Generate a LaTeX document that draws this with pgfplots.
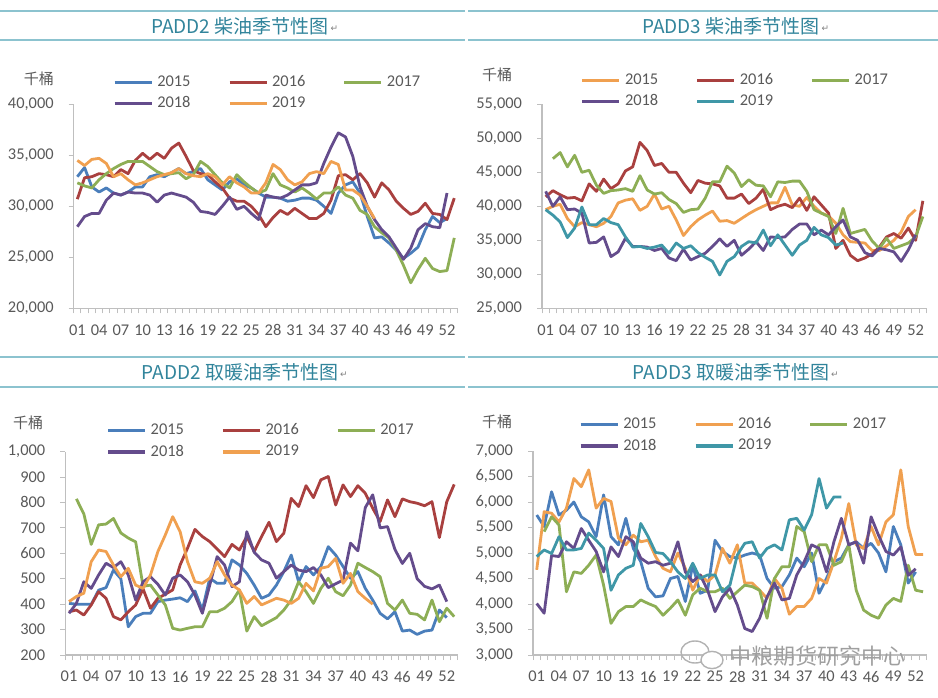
\documentclass[border=0pt]{standalone}
\usepackage{fontspec}
\setmainfont{Carlito}
\newfontfamily\cjk{Noto Sans CJK SC}
\newfontfamily\djv{DejaVu Sans}
\usepackage{pgfplots}
\pgfplotsset{compat=1.18}
\definecolor{cblue}{HTML}{4A7EBB}
\definecolor{cred}{HTML}{A9403F}
\definecolor{cgreen}{HTML}{8DAE55}
\definecolor{cpurple}{HTML}{644C8C}
\definecolor{corange}{HTML}{F0A050}
\definecolor{cteal}{HTML}{3F97A7}
\definecolor{axgray}{HTML}{BFBFBF}
\definecolor{tickgray}{HTML}{595959}
\definecolor{titleteal}{HTML}{31849B}
\definecolor{ruleteal}{HTML}{8CC3CF}
\pgfplotsset{
  seas/.style={
    scale only axis, anchor=south west,
    xmin=0.5, xmax=53.5,
    axis x line*=bottom, axis y line*=left,
    axis line style={axgray, line width=0.6pt},
    tick align=outside,
    major tick length=2.5pt,
    tick style={axgray, line width=0.5pt},
    xtick={0.5,1.5,...,53.5},
    xticklabels={},
    extra x ticks={1,4,...,52},
    extra x tick labels={01,04,07,10,13,16,19,22,25,28,31,34,37,40,43,46,49,52},
    extra x tick style={major tick length=0pt},
    ticklabel style={font=\fontsize{8.2}{9}\selectfont, text=tickgray},
    xticklabel style={yshift=-4.6pt},
    scaled y ticks=false,
    yticklabel style={xshift=-4pt, /pgf/number format/fixed, /pgf/number format/precision=0, /pgf/number format/1000 sep={,}, /pgf/number format/assume math mode=true},
    every axis plot/.append style={line width=1.4pt, line join=round, mark=none},
    legend columns=3,
    legend cell align=left,
    legend image code/.code={\draw[#1, line width=1.6pt] (0pt,0pt) -- (18.5pt,0pt);},
    legend style={draw=none, fill=none, inner sep=0pt, outer sep=0pt, anchor=north west,
       font=\fontsize{8.2}{9}\selectfont, text=tickgray, row sep=2.5pt,
       nodes={inner sep=0.5pt},
       /tikz/every odd column/.append style={column sep=1.5pt},
       /tikz/every even column/.append style={column sep=18.2pt}},
  }
}
\begin{document}
\begin{tikzpicture}[x=1pt,y=1pt]
\path[use as bounding box] (0,0) rectangle (469,348.5);
% title rules
\draw[ruleteal, line width=0.6pt] (0,343) -- (232.5,343) (0,328.5) -- (232.5,328.5);
\draw[ruleteal, line width=0.6pt] (234,343) -- (469,343) (234,328.5) -- (469,328.5);
\draw[ruleteal, line width=0.6pt] (0,170) -- (232.5,170) (0,155) -- (232.5,155);
\draw[ruleteal, line width=0.6pt] (234,170) -- (469,170) (234,155) -- (469,155);
% titles
\node[font=\cjk\fontsize{9.5}{11}\selectfont, text=titleteal, inner sep=0pt] (t1) at (120,335.5) {PADD2 柴油季节性图};
\node[font=\djv\fontsize{4.5}{5}\selectfont, text=gray, anchor=west, inner sep=0.5pt] at ([yshift=-1.5pt]t1.east) {↵};
\node[font=\cjk\fontsize{9.5}{11}\selectfont, text=titleteal, inner sep=0pt] (t2) at (365.5,335.5) {PADD3 柴油季节性图};
\node[font=\djv\fontsize{4.5}{5}\selectfont, text=gray, anchor=west, inner sep=0.5pt] at ([yshift=-1.5pt]t2.east) {↵};
\node[font=\cjk\fontsize{9.5}{11}\selectfont, text=titleteal, inner sep=0pt] (t3) at (120,162.5) {PADD2 取暖油季节性图};
\node[font=\djv\fontsize{4.5}{5}\selectfont, text=gray, anchor=west, inner sep=0.5pt] at ([yshift=-1.5pt]t3.east) {↵};
\node[font=\cjk\fontsize{9.5}{11}\selectfont, text=titleteal, inner sep=0pt] (t4) at (365.5,162.5) {PADD3 取暖油季节性图};
\node[font=\djv\fontsize{4.5}{5}\selectfont, text=gray, anchor=west, inner sep=0.5pt] at ([yshift=-1.5pt]t4.east) {↵};
% unit labels
\node[font=\cjk\fontsize{7.5}{9}\selectfont, text=tickgray, inner sep=0pt] at (19.5,309) {千桶};
\node[font=\cjk\fontsize{7.5}{9}\selectfont, text=tickgray, inner sep=0pt] at (248.5,311) {千桶};
\node[font=\cjk\fontsize{7.5}{9}\selectfont, text=tickgray, inner sep=0pt] at (14,137) {千桶};
\node[font=\cjk\fontsize{7.5}{9}\selectfont, text=tickgray, inner sep=0pt] at (248.5,137.5) {千桶};

% ---------------- Panel 1: PADD2 diesel
\begin{axis}[seas, at={(36.85pt,194.35pt)}, width=192.1pt, height=102pt,
  ymin=20000, ymax=40000, ytick={20000,25000,...,40000},
  legend style={at={(axis description cs:0.1025,1.145)}}]
\addplot[cblue] coordinates {(1,32900)(2,33800)(3,31900)(4,31400)(5,31800)(6,31300)(7,31100)(8,31400)(9,31900)(10,31900)(11,32900)(12,33100)(13,32900)(14,33300)(15,33700)(16,33200)(17,33400)(18,33700)(19,32600)(20,32100)(21,31600)(22,32400)(23,32700)(24,32100)(25,31800)(26,31300)(27,30900)(28,30900)(29,30800)(30,30500)(31,30600)(32,30800)(33,30800)(34,30600)(35,30000)(36,29300)(37,31300)(38,32100)(39,32400)(40,31300)(41,29000)(42,26900)(43,27000)(44,26400)(45,25700)(46,24900)(47,25400)(48,26000)(49,27700)(50,29000)(51,28400)(52,28800)};
\addplot[cred] coordinates {(1,30700)(2,32800)(3,32900)(4,33200)(5,33100)(6,32900)(7,33600)(8,33200)(9,34500)(10,35200)(11,34600)(12,35200)(13,34700)(14,35700)(15,36200)(16,34900)(17,33500)(18,33200)(19,33100)(20,32400)(21,31800)(22,30800)(23,30500)(24,30500)(25,30000)(26,29200)(27,28000)(28,28900)(29,29600)(30,29200)(31,29800)(32,29300)(33,28800)(34,28800)(35,29300)(36,30600)(37,33000)(38,33100)(39,32600)(40,33200)(41,32300)(42,30900)(43,32300)(44,31600)(45,30500)(46,29800)(47,29200)(48,29500)(49,30300)(50,29300)(51,29200)(52,28700)(53,30800)};
\addplot[cgreen] coordinates {(1,32300)(2,32000)(3,31800)(4,32600)(5,33200)(6,33700)(7,34100)(8,34400)(9,34400)(10,34400)(11,33900)(12,33400)(13,33100)(14,33200)(15,33300)(16,32700)(17,33100)(18,34400)(19,33900)(20,33100)(21,32300)(22,31800)(23,33100)(24,32400)(25,31800)(26,31300)(27,31600)(28,33200)(29,32100)(30,31800)(31,31400)(32,31800)(33,31300)(34,30700)(35,31300)(36,31300)(37,31900)(38,31100)(39,30800)(40,29600)(41,29200)(42,28000)(43,27400)(44,26900)(45,25700)(46,24200)(47,22500)(48,23800)(49,24900)(50,23900)(51,23600)(52,23700)(53,26900)};
\addplot[cpurple] coordinates {(1,28000)(2,29000)(3,29300)(4,29300)(5,30600)(6,31300)(7,31100)(8,31400)(9,31300)(10,31300)(11,31100)(12,30400)(13,31100)(14,31300)(15,31100)(16,30900)(17,30400)(18,29500)(19,29400)(20,29200)(21,30000)(22,30900)(23,29700)(24,30000)(25,29300)(26,28700)(27,31100)(28,30900)(29,30800)(30,31100)(31,31600)(32,32100)(33,32100)(34,32300)(35,34200)(36,35800)(37,37200)(38,36800)(39,34900)(40,31900)(41,30000)(42,28700)(43,27700)(44,27000)(45,25900)(46,24800)(47,25900)(48,27700)(49,28300)(50,28000)(51,27900)(52,31300)};
\addplot[corange] coordinates {(1,34500)(2,34000)(3,34600)(4,34700)(5,34200)(6,32900)(7,33200)(8,32600)(9,32100)(10,32300)(11,32600)(12,32900)(13,33100)(14,33300)(15,33700)(16,33200)(17,33000)(18,32900)(19,33200)(20,32900)(21,32100)(22,32900)(23,32300)(24,31900)(25,31300)(26,31300)(27,32300)(28,34100)(29,33600)(30,32600)(31,32100)(32,32400)(33,33200)(34,33400)(35,33200)(36,34400)(37,34100)(38,31600)(39,31600)(40,31100)(41,30000)(42,28800)};
\legend{2015,2016,2017,2018,2019}
\end{axis}

% ---------------- Panel 2: PADD3 diesel
\begin{axis}[seas, at={(271.0pt,194.35pt)}, width=192.25pt, height=102pt,
  ymin=25000, ymax=55000, ytick={25000,30000,...,55000},
  legend style={at={(axis description cs:0.101,1.155)}}]
\addplot[corange] coordinates {(1,39500)(2,40000)(3,40300)(4,38200)(5,37000)(6,37600)(7,37300)(8,37000)(9,37500)(10,38500)(11,40500)(12,40900)(13,41100)(14,39400)(15,40000)(16,41800)(17,39600)(18,40000)(19,38000)(20,35700)(21,37000)(22,38000)(23,38700)(24,39300)(25,37800)(26,37900)(27,37500)(28,38200)(29,38900)(30,39500)(31,40000)(32,40500)(33,40500)(34,42800)(35,40200)(36,40000)(37,41300)(38,40000)(39,39000)(40,38600)(41,37500)(42,35800)(43,34800)(44,34700)(45,34600)(46,33500)(47,33500)(48,34200)(49,35000)(50,36200)(51,38500)(52,39500)};
\addplot[cred] coordinates {(1,41400)(2,42300)(3,41700)(4,41200)(5,41300)(6,40800)(7,43300)(8,42200)(9,44000)(10,42600)(11,43300)(12,45200)(13,45800)(14,49400)(15,48200)(16,46000)(17,46300)(18,45000)(19,45000)(20,43400)(21,42000)(22,43800)(23,43400)(24,43300)(25,43000)(26,41200)(27,41200)(28,41800)(29,40400)(30,41200)(31,42500)(32,39500)(33,40000)(34,40300)(35,39800)(36,41200)(37,39400)(38,41400)(39,40200)(40,39000)(41,33800)(42,35000)(43,32800)(44,32000)(45,32400)(46,33000)(47,34000)(48,35500)(49,36000)(50,35300)(51,36800)(52,35000)(53,40800)};
\addplot[cgreen] coordinates {(2,47000)(3,47900)(4,45800)(5,47500)(6,45000)(7,45300)(8,43100)(9,41900)(10,42300)(11,42400)(12,42600)(13,42200)(14,44500)(15,42400)(16,41800)(17,42000)(18,41000)(19,40400)(20,39100)(21,39500)(22,39600)(23,41200)(24,43600)(25,43600)(26,45900)(27,44900)(28,42900)(29,43900)(30,43100)(31,43000)(32,41400)(33,43600)(34,43500)(35,43700)(36,43700)(37,42200)(38,39500)(39,39000)(40,38500)(41,36000)(42,39700)(43,36000)(44,36300)(45,36600)(46,34900)(47,33800)(48,35300)(49,33800)(50,34200)(51,34600)(52,35500)(53,38500)};
\addplot[cpurple] coordinates {(1,42200)(2,40000)(3,41400)(4,39500)(5,39600)(6,39000)(7,34600)(8,34700)(9,35500)(10,32600)(11,33300)(12,35300)(13,34100)(14,34100)(15,34000)(16,33500)(17,33800)(18,32400)(19,32000)(20,33700)(21,32100)(22,32600)(23,33100)(24,34100)(25,35200)(26,34100)(27,35000)(28,32800)(29,33700)(30,34800)(31,33500)(32,35500)(33,35400)(34,35500)(35,36600)(36,37400)(37,37400)(38,35800)(39,36500)(40,35800)(41,37000)(42,38000)(43,35500)(44,35000)(45,33200)(46,32700)(47,33800)(48,33600)(49,33300)(50,31900)(51,33600)(52,35800)};
\addplot[cteal] coordinates {(1,39500)(2,38700)(3,37700)(4,35400)(5,36800)(6,39900)(7,37300)(8,37300)(9,38200)(10,37600)(11,37300)(12,35500)(13,34000)(14,34100)(15,33800)(16,34000)(17,34300)(18,33100)(19,34600)(20,33800)(21,34200)(22,33200)(23,32500)(24,31900)(25,29900)(26,31900)(27,32600)(28,34100)(29,34800)(30,34600)(31,36500)(32,34200)(33,35800)(34,34300)(35,32800)(36,34300)(37,35000)(38,36900)(39,35800)(40,35400)(41,34300)(42,34600)};
\legend{2015,2016,2017,2018,2019}
\end{axis}

% ---------------- Panel 3: PADD2 heating oil
\begin{axis}[seas, at={(32.65pt,21pt)}, width=196.3pt, height=101.7pt,
  ymin=200, ymax=1000, ytick={200,300,...,1000},
  legend style={at={(axis description cs:0.105,1.142)}}]
\addplot[cblue] coordinates {(1,403)(2,400)(3,400)(4,399)(5,455)(6,465)(7,534)(8,500)(9,311)(10,351)(11,364)(12,364)(13,410)(14,416)(15,420)(16,425)(17,410)(18,452)(19,377)(20,502)(21,482)(22,482)(23,574)(24,554)(25,521)(26,475)(27,423)(28,436)(29,475)(30,528)(31,593)(32,488)(33,548)(34,515)(35,548)(36,626)(37,593)(38,548)(39,502)(40,528)(41,462)(42,416)(43,364)(44,342)(45,370)(46,294)(47,298)(48,281)(49,294)(50,298)(51,377)(52,347)};
\addplot[cred] coordinates {(1,370)(2,377)(3,357)(4,397)(5,449)(6,423)(7,351)(8,338)(9,370)(10,397)(11,460)(12,384)(13,423)(14,439)(15,456)(16,554)(17,620)(18,694)(19,666)(20,646)(21,617)(22,587)(23,635)(24,613)(25,666)(26,607)(27,666)(28,722)(29,646)(30,679)(31,816)(32,784)(33,866)(34,819)(35,889)(36,902)(37,790)(38,869)(39,823)(40,866)(41,836)(42,777)(43,725)(44,810)(45,744)(46,814)(47,803)(48,797)(49,787)(50,803)(51,662)(52,803)(53,871)};
\addplot[cgreen] coordinates {(2,814)(3,755)(4,635)(5,712)(6,715)(7,737)(8,680)(9,660)(10,645)(11,470)(12,475)(13,436)(14,397)(15,305)(16,298)(17,305)(18,311)(19,311)(20,370)(21,370)(22,384)(23,410)(24,456)(25,294)(26,351)(27,315)(28,331)(29,347)(30,377)(31,416)(32,488)(33,449)(34,403)(35,462)(36,502)(37,449)(38,433)(39,475)(40,561)(41,544)(42,528)(43,508)(44,403)(45,377)(46,416)(47,364)(48,360)(49,338)(50,416)(51,331)(52,384)(53,351)};
\addplot[cpurple] coordinates {(1,364)(2,403)(3,488)(4,462)(5,515)(6,561)(7,544)(8,567)(9,515)(10,416)(11,488)(12,508)(13,478)(14,436)(15,502)(16,515)(17,488)(18,436)(19,364)(20,475)(21,587)(22,554)(23,469)(24,488)(25,685)(26,604)(27,574)(28,561)(29,502)(30,528)(31,554)(32,534)(33,528)(34,544)(35,515)(36,465)(37,480)(38,495)(39,640)(40,610)(41,780)(42,830)(43,700)(44,705)(45,615)(46,560)(47,600)(48,500)(49,470)(50,460)(51,475)(52,410)};
\addplot[corange] coordinates {(1,410)(2,430)(3,443)(4,567)(5,613)(6,607)(7,554)(8,508)(9,541)(10,475)(11,462)(12,515)(13,607)(14,672)(15,744)(16,685)(17,567)(18,488)(19,482)(20,502)(21,567)(22,515)(23,475)(24,456)(25,403)(26,430)(27,397)(28,410)(29,423)(30,416)(31,403)(32,423)(33,482)(34,452)(35,541)(36,548)(37,580)(38,482)(39,521)(40,449)(41,423)(42,400)};
\legend{2015,2016,2017,2018,2019}
\end{axis}

% ---------------- Panel 4: PADD3 heating oil
\begin{axis}[seas, at={(266.5pt,21pt)}, width=196.9pt, height=102pt,
  ymin=3000, ymax=7000, ytick={3000,3500,...,7000},
  legend style={at={(axis description cs:0.117,1.168)}}]
\addplot[cblue] coordinates {(1,5745)(2,5520)(3,6200)(4,5745)(5,5840)(6,6000)(7,5710)(8,5610)(9,5320)(10,6140)(11,5320)(12,5160)(13,5680)(14,5090)(15,4830)(16,4310)(17,4140)(18,4160)(19,4500)(20,4540)(21,4050)(22,4760)(23,4210)(24,4270)(25,5250)(26,5030)(27,4930)(28,4900)(29,4960)(30,5000)(31,4960)(32,4500)(33,4310)(34,4340)(35,4570)(36,4900)(37,4730)(38,5000)(39,4210)(40,4500)(41,4830)(42,4900)(43,5160)(44,5220)(45,5090)(46,5190)(47,5000)(48,4630)(49,5520)(50,5160)(51,4410)(52,4630)};
\addplot[corange] coordinates {(1,4670)(2,5810)(3,5780)(4,5610)(5,5880)(6,6460)(7,6300)(8,6630)(9,5880)(10,6070)(11,6010)(12,5290)(13,5160)(14,5350)(15,5220)(16,5250)(17,4930)(18,4700)(19,4630)(20,5000)(21,4700)(22,4270)(23,4570)(24,4440)(25,4570)(26,5090)(27,4800)(28,5160)(29,4410)(30,4410)(31,4270)(32,4110)(33,4500)(34,4310)(35,3800)(36,3950)(37,3950)(38,4110)(39,4500)(40,4410)(41,4830)(42,5290)(43,5970)(44,5160)(45,5090)(46,5520)(47,5160)(48,5610)(49,5750)(50,6630)(51,5520)(52,4970)(53,4970)};
\addplot[cgreen] coordinates {(2,5420)(3,5710)(4,5550)(5,4240)(6,4630)(7,4600)(8,4760)(9,4960)(10,4370)(11,3620)(12,3850)(13,3950)(14,3950)(15,4080)(16,4010)(17,3950)(18,3780)(19,3920)(20,4080)(21,3780)(22,4180)(23,4310)(24,4240)(25,4240)(26,4310)(27,4110)(28,4240)(29,4370)(30,4340)(31,4270)(32,3720)(33,4500)(34,4730)(35,4730)(36,5520)(37,5420)(38,4830)(39,5160)(40,5160)(41,4760)(42,4830)(43,5160)(44,4270)(45,3880)(46,3780)(47,3720)(48,3980)(49,4110)(50,4050)(51,4760)(52,4270)(53,4240)};
\addplot[cpurple] coordinates {(1,4010)(2,3820)(3,4950)(4,4930)(5,5220)(6,5090)(7,5480)(8,5250)(9,5030)(10,4630)(11,5120)(12,4930)(13,5320)(14,5220)(15,4900)(16,4800)(17,4830)(18,4760)(19,4800)(20,5220)(21,4630)(22,4440)(23,4570)(24,4270)(25,3850)(26,4140)(27,4310)(28,3980)(29,3520)(30,3460)(31,3720)(32,4140)(33,4410)(34,4080)(35,4110)(36,4570)(37,4830)(38,5160)(39,5090)(40,4630)(41,5220)(42,5680)(43,5160)(44,5220)(45,4800)(46,5710)(47,5350)(48,5030)(49,4960)(50,5120)(51,4560)(52,4690)};
\addplot[cteal] coordinates {(1,4930)(2,5060)(3,4990)(4,5320)(5,5060)(6,5060)(7,5090)(8,5390)(9,5250)(10,5090)(11,4270)(12,4570)(13,4700)(14,4760)(15,5580)(16,5320)(17,5010)(18,4990)(19,4830)(20,4630)(21,4500)(22,4800)(23,4500)(24,4570)(25,4570)(26,4240)(27,4370)(28,4960)(29,5190)(30,5220)(31,4900)(32,5090)(33,5160)(34,5060)(35,5650)(36,5680)(37,5450)(38,5750)(39,6460)(40,5880)(41,6100)(42,6100)};
\legend{2015,2016,2017,2018,2019}
\end{axis}

% watermark
\draw[gray!60, line width=0.7pt] (347.5,22.5) ellipse (7 and 5.5);
\draw[gray!60, line width=0.7pt, fill=white] (356,18.5) ellipse (5.5 and 4.3);
\node[font=\cjk\fontsize{11}{12}\selectfont, text=gray!75, inner sep=0pt] at (408.5,20.5) {中粮期货研究中心};
\end{tikzpicture}
\end{document}
